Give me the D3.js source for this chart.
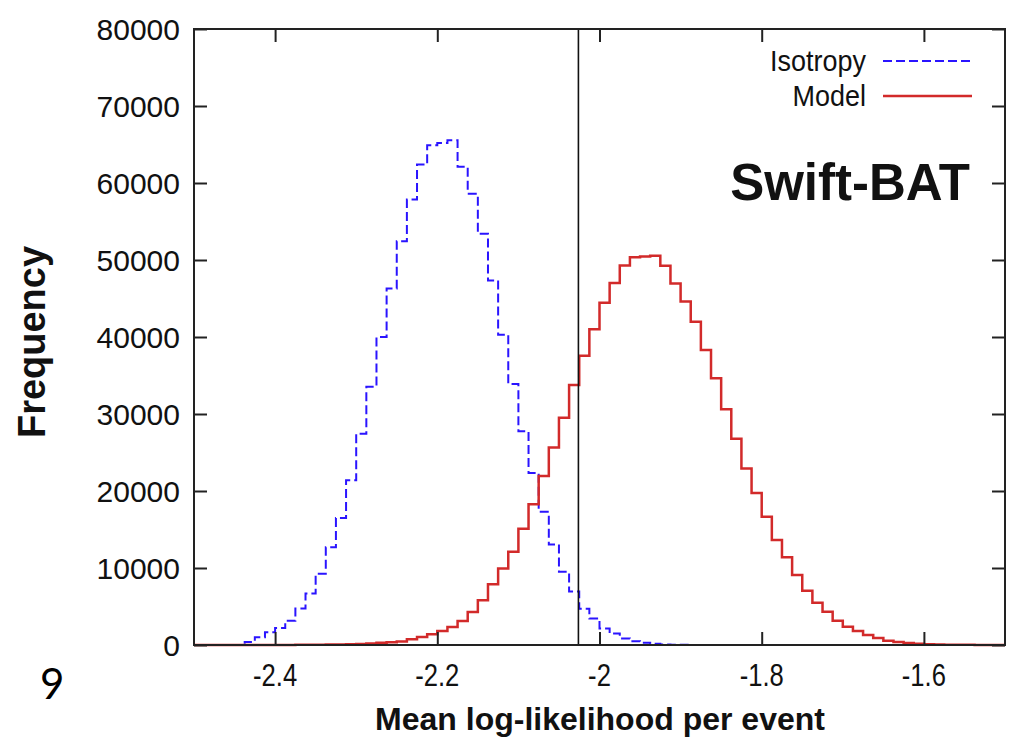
<!DOCTYPE html>
<html>
<head>
<meta charset="utf-8">
<script src="https://cdn.jsdelivr.net/npm/d3@7"></script>
<style>
body { margin: 0; background: #fff; }
svg { display: block; font-family: "Liberation Sans", Arial, sans-serif; }
</style>
</head>
<body>
<script>
// histogram bins start at -2.5, each 0.0125 wide
var binStart = -2.5;
var binWidth = 0.0125;

// frequency per bin
var isotropy = [0, 0, 0, 0, 0, 400, 1000, 1650, 2200, 3150,
	4750, 6700, 9250, 12700, 16500, 21400, 27450, 33550, 40000, 46300,
	52450, 57850, 62400, 64900, 65200, 65550, 62100, 58600, 53400, 47350,
	40300, 33900, 27750, 22350, 17300, 13050, 9500, 6950, 4700, 3450,
	2150, 1500, 850, 500, 300, 150, 80, 40, 20, 10, 5];

var model = [0, 0, 0, 0, 0, 2, 3, 5, 8, 12,
	18, 25, 35, 50, 70, 100, 140, 200, 280, 350,
	450, 740, 1040, 1390, 1820, 2340, 3120, 4300, 5800, 7900,
	9950, 12100, 15100, 18270, 21950, 25650, 29500, 33770, 37550, 41000,
	44450, 47000, 49300, 50350, 50450, 50550, 49250, 46950, 44600, 41990,
	38310, 34640, 30610, 26800, 22930, 19750, 16660, 13640, 11390, 9090,
	7050, 5490, 4320, 3150, 2380, 1820, 1300, 900, 550, 380,
	260, 170, 110, 70, 45, 30, 20, 10, 5, 3];

var seriesNames = ["Isotropy", "Model"];
var xTicks = [-2.4, -2.2, -2, -1.8, -1.6];
var xTickLabels = ["-2.4", "-2.2", "-2", "-1.8", "-1.6"];
var yTicks = [0, 10000, 20000, 30000, 40000, 50000, 60000, 70000, 80000];
var observed = -2.026;

var width = 1011, height = 738;
var margin = {top: 29, right: 6, bottom: 93, left: 194};
var tickLen = 13;

var svg = d3.select("body").append("svg")
	.attr("width", width)
	.attr("height", height);

var xscale = d3.scaleLinear()
	.domain([-2.5, -1.5])
	.range([margin.left, width - margin.right]);

var yscale = d3.scaleLinear()
	.domain([0, 80000])
	.range([height - margin.bottom, margin.top]);

// turn bin values into step points (left edges + closing right edge)
function steps(values) {
	var pts = values.map(function (v, i) { return [binStart + i * binWidth, v]; });
	pts.push([binStart + values.length * binWidth, values[values.length - 1]]);
	return pts;
}

var line = d3.line()
	.x(function (d) { return xscale(d[0]); })
	.y(function (d) { return yscale(d[1]); })
	.curve(d3.curveStepAfter);

var blue = "#2a14ff", red = "#d22a2a";

svg.append("path")
	.attr("d", line(steps(isotropy)))
	.attr("fill", "none")
	.attr("stroke", blue)
	.attr("stroke-width", 2)
	.attr("stroke-dasharray", "9,4");

svg.append("path")
	.attr("d", line(steps(model)))
	.attr("fill", "none")
	.attr("stroke", red)
	.attr("stroke-width", 2.5);

// observed value
svg.append("line")
	.attr("x1", xscale(observed)).attr("x2", xscale(observed))
	.attr("y1", yscale(80000)).attr("y2", yscale(0))
	.attr("stroke", "#111")
	.attr("stroke-width", 1.6);

// axes: ticks pointing inwards on all four sides
var axisColor = "#222";
var axisL = d3.axisRight(yscale).tickValues(yTicks).tickSize(tickLen).tickFormat("");
var axisR = d3.axisLeft(yscale).tickValues(yTicks).tickSize(tickLen).tickFormat("");
var axisB = d3.axisTop(xscale).tickValues(xTicks).tickSize(tickLen).tickFormat("");
var axisT = d3.axisBottom(xscale).tickValues(xTicks).tickSize(tickLen).tickFormat("");

svg.append("g").attr("transform", "translate(" + margin.left + ",0)").call(axisL);
svg.append("g").attr("transform", "translate(" + (width - margin.right) + ",0)").call(axisR);
svg.append("g").attr("transform", "translate(0," + (height - margin.bottom) + ")").call(axisB);
svg.append("g").attr("transform", "translate(0," + margin.top + ")").call(axisT);
svg.selectAll(".domain").remove();
svg.selectAll(".tick line").attr("stroke", axisColor).attr("stroke-width", 2);

svg.append("rect")
	.attr("x", margin.left).attr("y", margin.top)
	.attr("width", width - margin.left - margin.right)
	.attr("height", height - margin.top - margin.bottom)
	.attr("fill", "none")
	.attr("stroke", axisColor)
	.attr("stroke-width", 2);

// tick labels
svg.selectAll(".ylab")
	.data(yTicks)
	.enter().append("text")
	.attr("class", "ylab")
	.attr("x", 180)
	.attr("y", function (d) { return yscale(d); })
	.attr("dy", "0.36em")
	.attr("text-anchor", "end")
	.attr("font-size", 30)
	.attr("fill", "#111")
	.text(function (d) { return d; });

svg.selectAll(".xlab")
	.data(xTicks)
	.enter().append("text")
	.attr("class", "xlab")
	.attr("x", function (d) { return xscale(d); })
	.attr("y", 686)
	.attr("text-anchor", "middle")
	.attr("font-size", 32)
	.attr("fill", "#111")
	.text(function (d, i) { return xTickLabels[i]; })
	.each(function () {
		// labels in the picture are a bit condensed
		var len = this.getComputedTextLength();
		d3.select(this).attr("textLength", len * 0.8).attr("lengthAdjust", "spacingAndGlyphs");
	});

// axis titles
svg.append("text")
	.attr("transform", "translate(45,342) rotate(-90)")
	.attr("text-anchor", "middle")
	.attr("font-size", 38)
	.attr("font-weight", "bold")
	.attr("fill", "#111")
	.text("Frequency");

svg.append("text")
	.attr("x", 600)
	.attr("y", 730)
	.attr("text-anchor", "middle")
	.attr("font-size", 32)
	.attr("font-weight", "bold")
	.attr("fill", "#111")
	.text("Mean log-likelihood per event");

svg.append("text")
	.attr("x", 970)
	.attr("y", 200)
	.attr("text-anchor", "end")
	.attr("font-size", 51)
	.attr("font-weight", "bold")
	.attr("fill", "#111")
	.text("Swift-BAT");

// legend
var legend = svg.selectAll(".legend")
	.data(seriesNames)
	.enter().append("g")
	.attr("class", "legend")
	.attr("transform", function (d, i) { return "translate(0," + (61 + i * 35) + ")"; });

legend.append("text")
	.attr("x", 866)
	.attr("dy", "0.33em")
	.attr("text-anchor", "end")
	.attr("font-size", 29)
	.attr("fill", "#111")
	.text(function (d) { return d; })
	.each(function () {
		var len = this.getComputedTextLength();
		d3.select(this).attr("textLength", len * 0.93).attr("lengthAdjust", "spacingAndGlyphs");
	});

legend.append("line")
	.attr("x1", 883).attr("x2", 972)
	.attr("stroke", function (d, i) { return i == 0 ? blue : red; })
	.attr("stroke-width", function (d, i) { return i == 0 ? 2 : 2.5; })
	.attr("stroke-dasharray", function (d, i) { return i == 0 ? "9,4" : null; });

// page number in the corner
svg.append("text")
	.attr("x", 40)
	.attr("y", 699)
	.attr("font-family", "Lato, sans-serif")
	.attr("font-size", 42)
	.attr("fill", "#000")
	.text("9");
</script>
</body>
</html>
